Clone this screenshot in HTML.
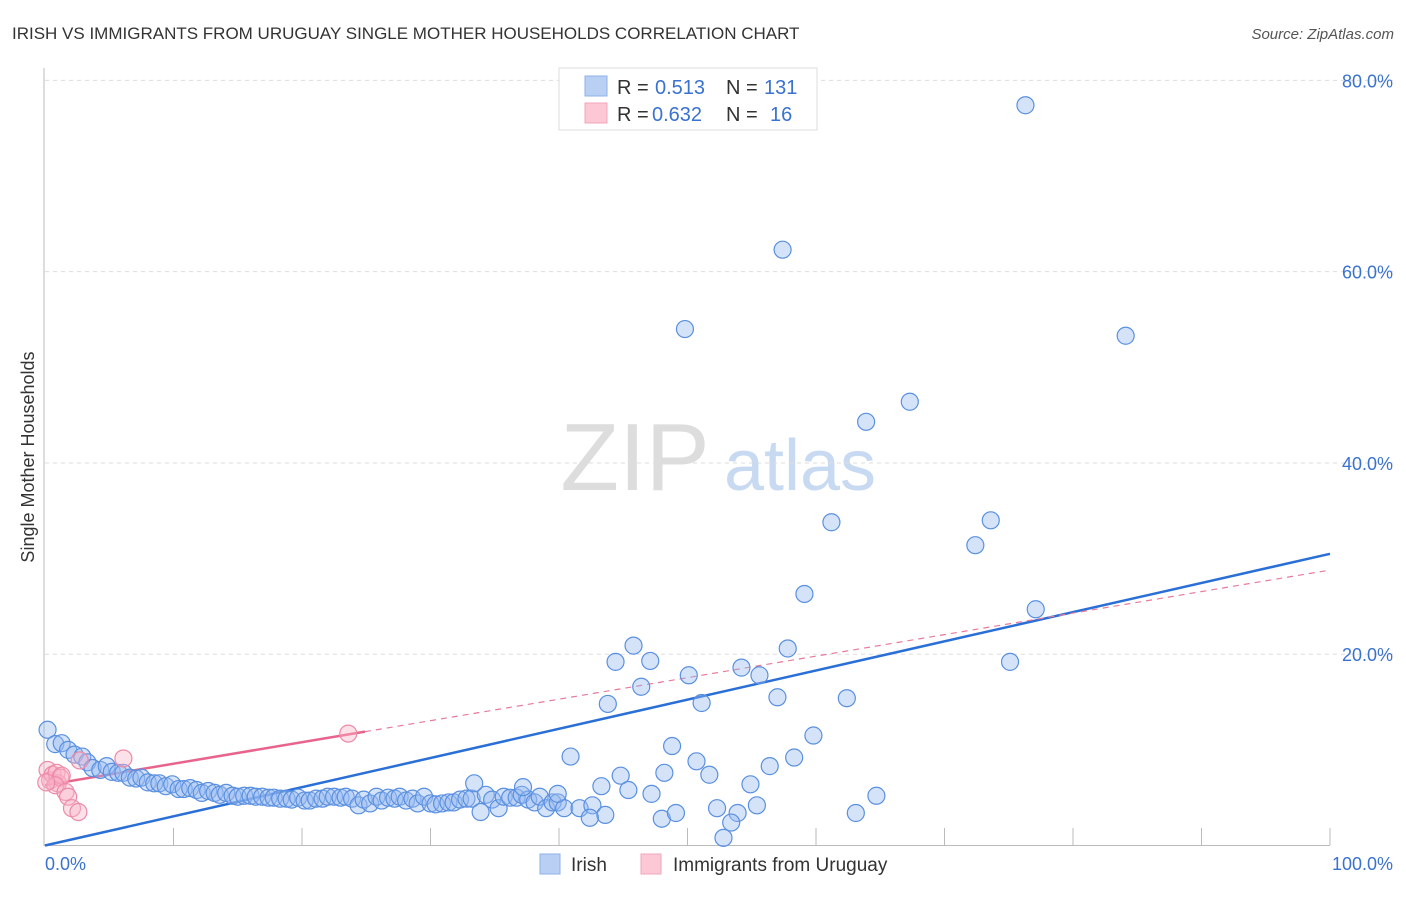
<!DOCTYPE html>
<html><head><meta charset="utf-8"><style>
body{margin:0;background:#fff;font-family:"Liberation Sans",sans-serif;}
svg text{font-family:"Liberation Sans",sans-serif;}
</style></head><body>
<svg id="chart" width="1406" height="892" xmlns="http://www.w3.org/2000/svg">
<text x="12" y="39" font-size="17" fill="#333">IRISH VS IMMIGRANTS FROM URUGUAY SINGLE MOTHER HOUSEHOLDS CORRELATION CHART</text>
<text x="1394" y="39" font-size="15" fill="#555" text-anchor="end" font-style="italic">Source: ZipAtlas.com</text>
<text transform="translate(34,457) rotate(-90)" font-size="18" fill="#333" text-anchor="middle">Single Mother Households</text>
<g>
<text x="635" y="490" font-size="96" fill="#ddd" font-family="Liberation Serif" text-anchor="middle">ZIP</text>
<text x="800" y="490" font-size="72" fill="#c8daf2" text-anchor="middle">atlas</text>
</g>
<g id="grid"></g><g id="axes"></g><g id="lines"></g><g id="pts"></g>
<g>
<rect x="559" y="68" width="258" height="62" fill="#fff" stroke="#ddd"/>
<rect x="585" y="76" width="22" height="20" fill="#b9d0f4" stroke="#8fb2e8"/>
<rect x="585" y="103" width="22" height="20" fill="#fcc8d6" stroke="#f2a6bb"/>
<text x="617" y="94" font-size="20" fill="#333">R = </text><text x="655" y="94" font-size="20" fill="#3a72d0">0.513</text>
<text x="726" y="94" font-size="20" fill="#333">N = </text><text x="764" y="94" font-size="20" fill="#3a72d0">131</text>
<text x="617" y="121" font-size="20" fill="#333">R = </text><text x="652" y="121" font-size="20" fill="#3a72d0">0.632</text>
<text x="726" y="121" font-size="20" fill="#333">N = </text><text x="770" y="121" font-size="20" fill="#3a72d0">16</text>
</g>
<g>
<rect x="540" y="854" width="20" height="20" fill="#b9d0f4" stroke="#8fb2e8"/>
<text x="571" y="871" font-size="19" fill="#333">Irish</text>
<rect x="641" y="854" width="20" height="20" fill="#fcc8d6" stroke="#f2a6bb"/>
<text x="673" y="871" font-size="19" fill="#333">Immigrants from Uruguay</text>
</g>
<text x="45" y="870" font-size="18" fill="#3a72d0">0.0%</text>
<text x="1393" y="870" font-size="18" fill="#3a72d0" text-anchor="end">100.0%</text>
</svg>
<script>
const irishX=[0.2,0.8,1.3,1.8,2.3,2.9,3.3,3.7,4.3,4.8,5.2,5.7,6.1,6.6,7.1,7.5,8.0,8.5,8.9,9.4,9.9,10.4,10.8,11.3,11.8,12.2,12.7,13.2,13.6,14.1,14.6,15.0,15.5,16.0,16.4,16.9,17.4,17.8,18.3,18.8,19.2,19.7,20.2,20.6,21.1,21.6,22.0,22.5,23.0,23.4,23.9,24.4,24.8,25.3,25.8,26.2,26.7,27.2,27.6,28.1,28.6,29.0,29.5,30.0,30.4,30.9,31.4,31.8,32.3,32.8,33.2,33.9,34.3,34.8,35.3,35.7,36.2,36.7,37.1,37.6,38.1,38.5,39.0,39.5,39.9,40.4,
76.3,57.4,49.8,84.1,67.3,63.9,61.2,73.6,72.4,59.1,77.1,45.8,57.8,44.4,47.1,75.1,54.2,50.1,55.6,46.4,43.8,51.1,57.0,62.4,59.8,48.8,40.9,58.3,50.7,56.4,48.2,51.7,44.8,43.3,54.9,33.4,45.4,37.2,64.7,47.2,39.9,55.4,52.3,53.9,41.6,42.6,43.6,42.4,48.0,49.1,63.1,53.4,52.8];
const irishY=[12.1,10.6,10.7,10.0,9.5,9.3,8.7,8.1,7.9,8.3,7.7,7.6,7.6,7.1,7.0,7.1,6.6,6.5,6.5,6.2,6.4,5.9,5.9,6.0,5.8,5.5,5.7,5.5,5.3,5.5,5.2,5.1,5.2,5.2,5.1,5.1,5.0,5.0,4.9,4.9,4.8,5.0,4.7,4.7,4.9,4.9,5.1,5.1,5.0,5.1,4.9,4.2,4.8,4.4,5.1,4.7,5.0,4.9,5.1,4.7,4.9,4.4,5.1,4.4,4.3,4.4,4.5,4.5,4.8,4.9,4.9,3.5,5.3,4.8,3.9,5.1,5.0,5.0,5.3,4.8,4.5,5.1,3.9,4.5,4.5,3.9,
77.4,62.3,54.0,53.3,46.4,44.3,33.8,34.0,31.4,26.3,24.7,20.9,20.6,19.2,19.3,19.2,18.6,17.8,17.8,16.6,14.8,14.9,15.5,15.4,11.5,10.4,9.3,9.2,8.8,8.3,7.6,7.4,7.3,6.2,6.4,6.5,5.8,6.1,5.2,5.4,5.4,4.2,3.9,3.4,3.9,4.2,3.2,2.9,2.8,3.4,3.4,2.4,0.8];
const uruX=[0.2,0.4,0.6,0.9,1.0,1.2,1.3,0.8,1.6,1.8,2.1,2.6,2.7,6.1,23.6,0.1];
const uruY=[7.9,6.8,7.4,7.6,6.5,7.1,7.3,6.3,5.6,5.1,3.9,3.5,8.9,9.1,11.7,6.6];
const irishTrend=[0,30.5];
const uruTrend=[6.3,28.8];
const uruSolidEnd=24.9;
const yTicks=[20,40,60,80];
const xTicks=[10,20,30,40,50,60,70,80,90,100];

const NS="http://www.w3.org/2000/svg";
const X=v=>45+v*12.85, Y=v=>845.5-v*9.564;
function mk(tag,attrs,parent){const e=document.createElementNS(NS,tag);for(const k in attrs)e.setAttribute(k,attrs[k]);document.getElementById(parent).appendChild(e);return e;}
yTicks.forEach(t=>{
 const l=mk('line',{x1:45,x2:1395,y1:Y(t),y2:Y(t),stroke:'#ddd','stroke-dasharray':'4,4'},'grid');
 
 
 const tx=mk('text',{x:1393,y:Y(t)+7,'font-size':18,fill:'#3a72d0','text-anchor':'end'},'grid');
 tx.textContent=t.toFixed(1)+'%';
 
 
});
const ax=mk('line',{x1:44,x2:44,y1:68,y2:846,stroke:'#bbb'},'axes');


const bx=mk('line',{x1:44,x2:1330,y1:845.5,y2:845.5,stroke:'#bbb'},'axes');


xTicks.forEach(t=>{
 const l=mk('line',{x1:X(t),x2:X(t),y1:828,y2:845,stroke:'#bbb'},'axes');
 
 
});
const tb=mk('line',{x1:X(0),y1:Y(irishTrend[0]),x2:X(100),y2:Y(irishTrend[1]),stroke:'#2a6fd6','stroke-width':2.5},'lines');


const py=x=>uruTrend[0]+(uruTrend[1]-uruTrend[0])*x/100;
const tpd=mk('line',{x1:X(uruSolidEnd),y1:Y(py(uruSolidEnd)),x2:X(100),y2:Y(py(100)),stroke:'#e87a9a','stroke-width':1.2,'stroke-dasharray':'6,5'},'lines');


const tp=mk('line',{x1:X(0),y1:Y(py(0)),x2:X(uruSolidEnd),y2:Y(py(uruSolidEnd)),stroke:'#e8648c','stroke-width':2.5},'lines');


irishX.forEach((x,i)=>{
 const c=mk('circle',{cx:X(x),cy:Y(irishY[i]),r:8.5,fill:'rgba(150,185,240,0.4)',stroke:'#5a90e0','stroke-width':1.2},'pts');
 
 
});
uruX.forEach((x,i)=>{
 const c=mk('circle',{cx:X(x),cy:Y(uruY[i]),r:8.5,fill:'rgba(250,180,200,0.4)',stroke:'#ec8aa8','stroke-width':1.2},'pts');
 
 
});
</script>
</body></html>
